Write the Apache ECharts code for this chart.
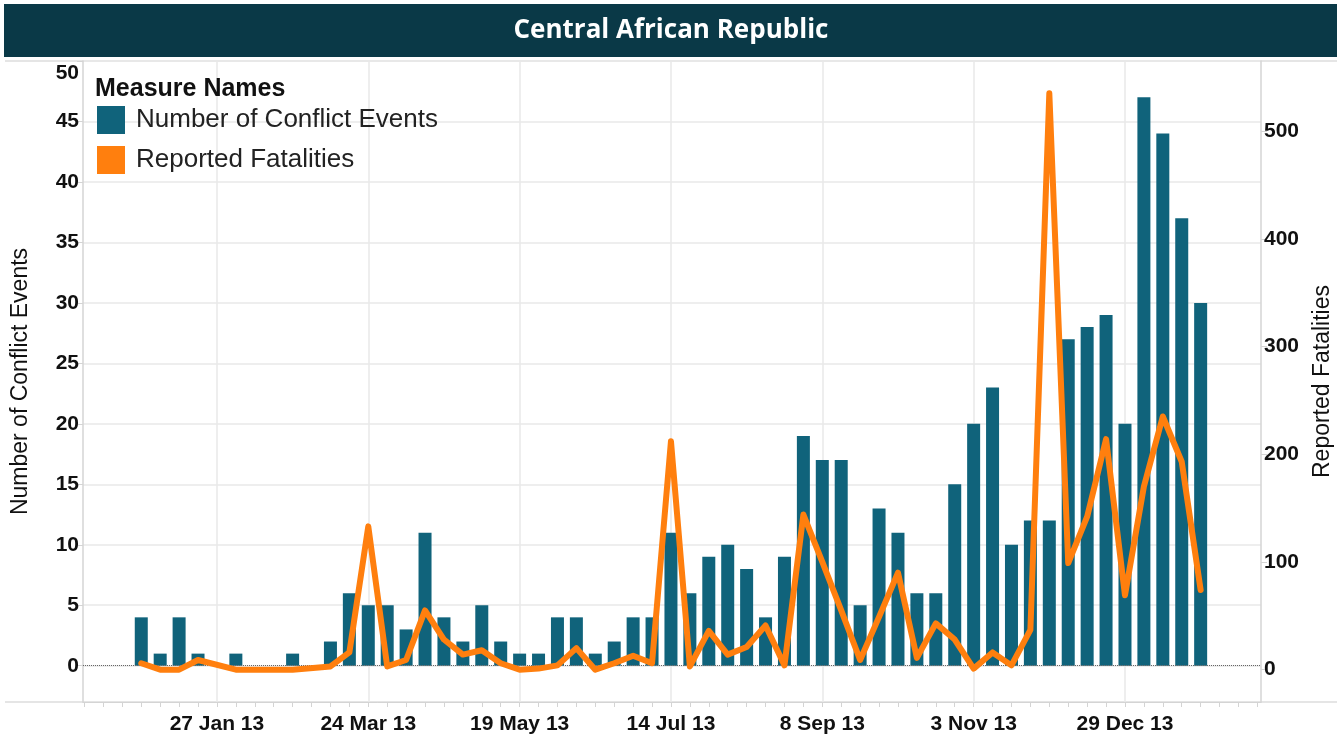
<!DOCTYPE html>
<html>
<head>
<meta charset="utf-8">
<title>Central African Republic</title>
<script src="https://cdn.jsdelivr.net/npm/echarts@6.0.0/dist/echarts.min.js"></script>
<style>
  html, body { margin: 0; padding: 0; background: #fff; overflow: hidden; }
  #chart { width: 1343px; height: 737px; }
</style>
</head>
<body>
<div id="chart"></div>
<script>
// weekly data, week 0 = week of 30 Dec 2012
const firstWeek = "2012-12-30";
// number of conflict events per week (null = no data that week)
const conflictEvents = [
  4, 1, 4, 1, null, 1, null, null, 1, null,
  2, 6, 5, 5, 3, 11, 4, 2, 5, 2,
  1, 1, 4, 4, 1, 2, 4, 4, 11, 6,
  9, 10, 8, 4, 9, 19, 17, 17, 5, 13,
  11, 6, 6, 15, 20, 23, 10, 12, 12, 27,
  28, 29, 20, 47, 44, 37, 30
];
// reported fatalities per week
const reportedFatalities = [
  6, 0, 0, 9, null, 0, null, null, 0, null,
  3, 16, 133, 3, 9, 55, 28, 14, 18, 6,
  0, 1, 4, 20, 0, 6, 13, 6, 212, 3,
  36, 14, 21, 41, 4, 144, 100, 55, 9, 49,
  90, 11, 43, 28, 1, 16, 4, 37, 535, 99,
  142, 214, 69, 170, 235, 193, 74
];
// x axis labels and the week index they sit on
const tickWeeks = [4, 12, 20, 28, 36, 44, 52];
const tickLabels = ["27 Jan 13", "24 Mar 13", "19 May 13", "14 Jul 13", "8 Sep 13", "3 Nov 13", "29 Dec 13"];
const leftTicks = [0, 5, 10, 15, 20, 25, 30, 35, 40, 45, 50];
const rightTicks = [0, 100, 200, 300, 400, 500];

const teal = "#10637b";
const orange = "#ff7f0e";
const gridColor = "#e8e8e8";
const axisColor = "#d4d4d4";
const font = "Liberation Sans, Arial, sans-serif";

const weekTicks = [];
for (let w = -3; w <= 59; w++) weekTicks.push(w);

const barData = conflictEvents.map((v, i) => [i, v]);
const lineData = reportedFatalities.map((v, i) => [i, v]);

const chart = echarts.init(document.getElementById("chart"));

chart.setOption({
  animation: false,
  backgroundColor: "#fff",
  textStyle: { fontFamily: font },
  graphic: [
    {
      type: "rect",
      left: 4, top: 4,
      shape: { width: 1333, height: 53 },
      style: { fill: "#0a3947" },
      silent: true
    },
    {
      type: "text",
      x: 671, y: 31,
      style: {
        text: "Central African Republic",
        fill: "#fff",
        font: "bold 26px 'Open Sans', sans-serif",
        textAlign: "center",
        textVerticalAlign: "middle"
      },
      silent: true
    },
    {
      type: "line",
      shape: { x1: 5, y1: 61, x2: 1337, y2: 61 },
      style: { stroke: "#dcdcdc", lineWidth: 1.5 },
      silent: true
    },
    {
      type: "line",
      shape: { x1: 5, y1: 702, x2: 1337, y2: 702 },
      style: { stroke: "#dcdcdc", lineWidth: 1.5 },
      silent: true
    },
    {
      type: "text",
      x: 95, y: 89,
      style: {
        text: "Measure Names",
        fill: "#111",
        font: "bold 25px " + font,
        textVerticalAlign: "middle"
      },
      z: 100
    }
  ],
  legend: {
    orient: "vertical",
    left: 97,
    top: 106,
    padding: 0,
    itemWidth: 28,
    itemHeight: 28,
    itemGap: 12,
    textStyle: { fontSize: 26, color: "#222", fontFamily: font, padding: [6, 0, 0, 6] },
    data: [
      { name: "Number of Conflict Events", icon: "rect" },
      { name: "Reported Fatalities", icon: "rect" }
    ]
  },
  grid: { left: 83, right: 82, top: 61, bottom: 35, containLabel: false, outerBoundsMode: "none" },
  xAxis: [
    {
      type: "value",
      min: -3.08,
      max: 59.19,
      axisLine: { show: true, onZero: false, lineStyle: { color: axisColor } },
      axisTick: { show: true, length: 5, customValues: tickWeeks, lineStyle: { color: axisColor } },
      axisLabel: {
        customValues: tickWeeks,
        margin: 12,
        fontSize: 21,
        fontWeight: "bold",
        color: "#111",
        formatter: (v) => tickLabels[tickWeeks.indexOf(Math.round(v))] || ""
      },
      splitLine: { show: true, lineStyle: { color: gridColor, width: 1.5 } }
    },
    {
      type: "value",
      position: "bottom",
      min: -3.08,
      max: 59.19,
      axisLine: { show: false, onZero: false },
      axisTick: { show: true, length: 5, customValues: weekTicks, lineStyle: { color: axisColor } },
      axisLabel: { show: false },
      splitLine: { show: false }
    }
  ],
  yAxis: [
    {
      type: "value",
      min: -3,
      max: 50,
      name: "Number of Conflict Events",
      nameLocation: "middle",
      nameRotate: 90,
      nameGap: 51,
      nameTextStyle: { fontSize: 23, color: "#111", fontFamily: font },
      axisLine: { show: true, onZero: false, lineStyle: { color: axisColor, width: 1.5 } },
      axisTick: { show: true, length: 6, customValues: leftTicks, lineStyle: { color: axisColor } },
      axisLabel: {
        customValues: leftTicks,
        margin: 4,
        fontSize: 21,
        fontWeight: "bold",
        color: "#111",
        // top label sits a little below the plot edge, as in the original
        formatter: (v) => (v === 50 ? "{top|50}" : String(v)),
        rich: { top: { fontSize: 21, fontWeight: "bold", color: "#111", padding: [24, 0, 0, 0] } }
      },
      splitLine: { show: true, lineStyle: { color: gridColor, width: 1.5 } }
    },
    {
      type: "value",
      min: -30,
      max: 565,
      position: "right",
      name: "Reported Fatalities",
      nameLocation: "middle",
      nameRotate: 90,
      nameGap: 50,
      nameTextStyle: { fontSize: 23, color: "#111", fontFamily: font },
      axisLine: { show: true, onZero: false, lineStyle: { color: axisColor, width: 1.5 } },
      axisTick: { show: true, length: 6, customValues: rightTicks, lineStyle: { color: axisColor } },
      axisLabel: { customValues: rightTicks, margin: 3, fontSize: 21, fontWeight: "bold", color: "#111" },
      splitLine: { show: false }
    }
  ],
  series: [
    {
      name: "Number of Conflict Events",
      type: "bar",
      xAxisIndex: 0,
      yAxisIndex: 0,
      barWidth: 13,
      data: barData,
      itemStyle: { color: teal },
      markLine: {
        silent: true,
        symbol: "none",
        label: { show: false },
        lineStyle: { type: "dotted", color: "#666", width: 1 },
        data: [{ yAxis: 0 }]
      }
    },
    {
      name: "Reported Fatalities",
      type: "line",
      xAxisIndex: 0,
      yAxisIndex: 1,
      data: lineData,
      connectNulls: true,
      showSymbol: false,
      symbol: "none",
      itemStyle: { color: orange },
      lineStyle: { color: orange, width: 6, join: "round", cap: "round" },
      z: 5
    }
  ]
});
</script>
</body>
</html>
